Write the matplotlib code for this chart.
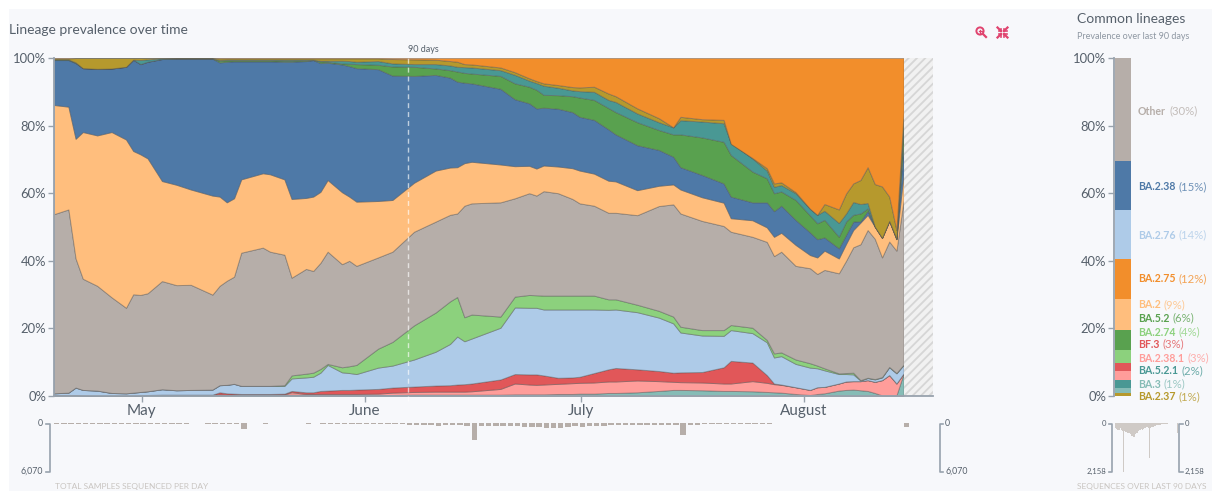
import numpy as np
import matplotlib
matplotlib.use("Agg")
import matplotlib.pyplot as plt
from matplotlib.patches import Rectangle, Circle

plt.rcParams['font.family'] = ['Lato', 'DejaVu Sans']
plt.rcParams['hatch.linewidth'] = 1.3

W, H = 1212, 491
TXT = '#56606b'
AXC = '#98a2ad'

days = [0,2,3,4,6,8,10,11,12,13,
        15,17,19,22,23,24,25,26,29,30,
        32,33,35,36,37,38,40,41,42,45,
        47,50,53,55,56,57,58,62,64,66,
        67,68,70,72,73,75,77,78,81,84,
        86,87,90,93,94,97,99,100,101,103,
        105,106,107,109,110,111,112,113,114,115,
        116,117,118]

# upper edge (%) of each lineage in the stack, bottom to top
top_ba3 = [.2,.2,.2,.2,.1,.1,.1,.1,.2,.3,
           .4,.4,.4,.4,.4,.4,.4,.4,.4,.4,
           .4,.4,.4,.4,.3,.3,.3,.3,.3,.3,
           .3,.4,.4,.4,.4,.4,.4,.4,.5,.5,
           .5,.5,.6,.6,.7,.7,.9,.9,1.1,1.5,
           1.8,1.8,1.7,1.5,1.5,1.4,1.2,1.1,1,.6,
           .3,.6,.8,1.6,1.8,1.9,1.7,1.5,.9,.2,
           .2,.2,6.7]
top_ba2381 = [.3,.3,.3,.2,.1,.1,.1,.1,.2,.3,
              .4,.4,.4,.4,.5,.4,.4,.4,.4,.4,
              .5,1.1,.6,.6,.6,.6,.6,.6,.6,.7,
              1,1.2,1.3,1.3,1.3,1.3,1.4,2.1,3.7,3.4,
              3.3,3.4,3.6,3.8,3.9,4,4.3,4.3,4.6,4.4,
              4.2,4.1,4,3.7,3.7,4.4,3.9,3.5,3.3,2.6,
              1.8,2.6,2.7,3.7,4.3,4.4,4.4,4.7,4.2,4.7,
              6.2,3.7,6.7]
top_bf3 = [.3,.3,.3,.2,.1,.1,.1,.1,.2,.3,
           .4,.4,.4,.4,1.1,.8,.7,.6,.6,.6,
           .7,1.5,1.1,1.1,1.5,1.6,1.8,1.8,1.9,2.1,
           2.5,2.8,3.1,3.2,3.4,3.5,3.7,4.9,6.5,6.4,
           6.4,6.1,5.4,5.5,5.7,6.8,7.9,8.3,7.9,7.4,
           6.9,7,7.1,8.5,10.4,9.9,6.2,3.7,3.4,2.6,
           1.8,2.6,2.7,3.7,4.3,4.4,4.4,4.7,4.2,4.7,
           6.2,3.7,6.7]
top_ba276 = [.8,1,2.5,1.8,1.6,.9,.8,1,1.2,1.4,
             2,1.7,1.8,1.9,3.2,3.3,3.6,3,3,3,
             3,5.2,5.5,5.7,6.9,9.2,7,6.8,6.5,8.4,
             9,10.8,13.1,15.4,17.6,16.2,17,20.2,26.2,26.1,
             26.1,25.6,25.6,25.6,25.6,25.6,25.5,25.6,24.8,23.2,
             21.5,18.8,17.9,17.8,19.5,18.6,15.9,11.4,11.8,9.5,
             8.4,8.2,7.6,6.5,6.5,6.4,4.6,5.3,4.9,5.5,
             8.5,6.7,9.2]
top_ba274 = [.8,1,2.5,1.8,1.6,.9,.8,1,1.2,1.4,
             2,1.7,1.8,1.9,3.2,3.3,3.6,3,3,3,
             3.2,6.1,6.6,6.9,8,9.5,8.5,8.8,9.2,14,
             16,20.9,24.7,28,29.3,23.3,24.1,23.5,29.4,29.9,
             29.8,29.7,29.7,29.7,29.7,29.7,28.6,28.6,27,25.2,
             23.5,20.5,19.5,19.5,21,20.2,16.6,12.6,12.9,10.8,
             9.7,9,8.2,6.7,6.8,6.9,4.7,5.4,5,5.6,
             8.6,6.8,9.3]
top_other = [53.8,55.2,40.7,34.7,32.6,29.2,26.1,30.1,29.9,30.4,
             34,32.8,32.9,30,32.6,34.1,35.3,42.4,43.9,42.7,
             41.8,35,37.6,37,39.4,42.7,39,40,38.5,41,
             42.7,48.6,51.6,53.6,54,56.3,57,57.3,58.5,60,
             59.3,60.6,60,58.3,57,56.3,54.2,54.2,53.5,56.2,
             56.7,54,51.8,50.3,48.6,47.1,45.6,41.4,42.7,38.5,
             37.8,36.1,37.3,36.3,40,44,44.9,49.1,46.5,41,
             45.7,43,58]
top_ba2 = [86.1,85.6,76.1,78.1,77.1,78.1,75.9,72.5,71.5,70.3,
           63.6,62.5,61.1,59.3,59,57.3,58.5,64.1,65.9,65.6,
           64.1,58.3,58.6,59,60.4,63.9,60.3,59,57.5,57.7,
           58,63.1,66.7,67.6,67.7,68.9,69.3,68.5,68,68.1,
           67.3,68.2,67.9,67.4,66.7,65.8,63.7,63.5,60.9,62.2,
           62.6,61.1,58.8,57.2,52.6,52,49.9,47.1,48.3,44.7,
           41.7,41,43,40.7,45,49.1,51.3,53.6,50.1,46.8,
           51.8,46.4,65.9]
top_ba238 = [99.4,99.4,98.5,97,96.8,96.9,97.4,99.5,98.2,98.9,
             99.7,99.8,99.8,99.8,98.7,98.9,99,99,99,99,
             98.9,98.9,99.1,99.4,98.5,98.6,98.1,97.6,97,96.7,
             94.8,94.7,95,94.2,93,92.7,92.5,90.9,87.8,86.6,
             85.1,85.3,85,84,82.6,81.7,78.9,77.4,74.2,72.8,
             70.8,67.7,65.4,62.9,59,57.3,57.3,54.7,56.3,52.1,
             48.4,46.4,46.9,43.7,47.7,51.6,51.7,54.8,50.1,46.8,
             51.8,46.4,75]
top_ba52 = [99.5,99.5,98.6,97,96.8,96.9,97.4,99.5,98.2,98.9,
            99.7,99.8,99.8,99.8,99.2,99.3,99.3,99.3,99.3,99.3,
            99.2,99.2,99.3,99.4,99,98.9,98.4,98.3,98.2,98,
            97.5,97.4,96.9,96.4,96,95.6,95.4,94.7,92.5,91.5,
            90.6,89.1,89,88.7,88.3,87.6,85.2,84,81,78.7,
            77.4,77.4,76.5,75.2,71.3,66.4,64.4,60,60.5,58,
            53.4,51.1,52.1,47.1,51.6,53.6,54,55.5,50.1,46.8,
            51.8,46.5,80]
top_ba521 = [99.6,99.6,98.7,97,96.8,96.9,97.4,99.5,99.4,99.6,
             99.9,99.9,99.9,99.9,99.4,99.5,99.5,99.5,99.5,99.5,
             99.5,99.5,99.5,99.5,99.2,99.2,99.2,99.1,98.9,99.1,
             98.4,98.2,98.2,97.8,97.4,97.3,97.2,96.4,95,93.3,
             92.6,91.8,91.2,90.4,90.2,90,87.6,87,83.6,81,
             79.5,81.6,81.2,80.7,74.9,70.3,66.7,61.9,62.4,60,
             55.4,53.6,54.8,51.2,54,57.4,56.8,57.1,50.1,46.8,
             51.8,46.6,82]
top_ba237 = [99.9,99.9,100,100,100,100,100,100,100,100,
             100,100,100,100,99.9,99.9,99.9,99.9,99.9,99.9,
             99.9,99.9,99.9,99.9,99.9,99.9,99.9,99.9,99.9,99.9,
             99.7,99.6,99.5,99.1,98.9,98.2,98.1,97.2,95.8,94,
             93.2,92.5,92,91.4,91.3,91.5,89.5,88.7,85.1,82.2,
             79.5,82.6,81.9,81.7,74.6,70.4,67.4,62.9,63.2,60.3,
             55.4,53.6,56.8,55.2,59.9,62.9,63.9,67.7,62.7,62,
             59,49.1,84.1]
top_all = [100.0] * len(days)

stack_names = ['BA.3','BA.2.38.1','BF.3','BA.2.76','BA.2.74','Other','BA.2',
               'BA.2.38','BA.5.2','BA.5.2.1','BA.2.37','BA.2.75']
stack_tops = [top_ba3, top_ba2381, top_bf3, top_ba276, top_ba274, top_other, top_ba2,
              top_ba238, top_ba52, top_ba521, top_ba237, top_all]

colors = {'BA.3':'#86bcb6','BA.2.38.1':'#ff9d9a','BF.3':'#e15759','BA.2.76':'#aecbe8',
          'BA.2.74':'#8cd17d','Other':'#b6aea9','BA.2':'#ffbe7d','BA.2.38':'#4e79a7',
          'BA.5.2':'#59a14f','BA.5.2.1':'#499894','BA.2.37':'#b6992d','BA.2.75':'#f28e2b'}

month_days = [12.2, 43.2, 73.2, 104.1]
month_labels = ['May', 'June', 'July', 'August']
pct_ticks = [0, 20, 40, 60, 80, 100]

# samples sequenced per day, day 0 to day 118
daily_early = [90,100,80,110,90,120,100,80,110,120,100,90,110,100,120,130,110,100,90,
               40,30,70,90,80,90,100,760,60,50,70,60,50,40,60,50,70,60,90,80,100,110,100,110,120,110,
               130,140,150,160]
daily_last = [220,250,300,300,330,200,240,300,370,2158,350,380,400,430,430,440,450,500,560,600,
              630,620,480,430,450,390,350,320,300,280,300,260,240,220,200,210,190,220,1550,210,
              190,170,160,150,140,130,110,100,90,80,70,60,50,45,40,35,30,28,25,20,
              18,15,12,10,8,6,5,4,3,450]

# right-hand summary, bottom to top
common_names = ['BA.2.37','BA.3','BA.5.2.1','BA.2.38.1','BF.3','BA.2.74','BA.5.2','BA.2',
                'BA.2.75','BA.2.76','BA.2.38','Other']
common_values = [1.0,1.3,2.3,2.7,2.4,4.0,5.9,9.2,11.8,14.3,14.6,30.6]
common_shown = ['1%','1%','2%','3%','3%','4%','6%','9%','12%','14%','15%','30%']
label_y_px = [397,384,371,358,344,332,318,305,279,235,187,111]

fig = plt.figure(figsize=(W/100, H/100), dpi=100, facecolor='white')

def pax(x0, y0, x1, y1, **kw):
    return fig.add_axes([x0/W, 1-y1/H, (x1-x0)/W, (y1-y0)/H], **kw)

# overlay in pixel coordinates
ov = pax(0, 0, W, H, zorder=0)
ov.set_xlim(0, W); ov.set_ylim(H, 0); ov.axis('off')
ov.add_patch(Rectangle((9, 9), W-9, H-9, fc='#f7f8fb', ec='none'))

# main stream
ax = pax(54, 58, 933, 396, zorder=2)
ax.patch.set_alpha(0)
tops = np.array(stack_tops)
shares = np.diff(np.vstack([np.zeros(len(days)), tops]), axis=0)
ax.stackplot(days, shares, colors=[colors[n] for n in stack_names],
             edgecolor=(0.3, 0.3, 0.3, 0.4), linewidth=0.7)
ax.set_xlim(0, 122.08)
ax.set_ylim(0, 100)
ax.add_patch(Rectangle((118, 0), 4.08, 100, fc='#f1f1f1', ec='#d6d6d6', hatch='////', lw=0))
ax.set_xticks(month_days, month_labels)
ax.set_yticks(pct_ticks, [f'{p}%' for p in pct_ticks])
ax.tick_params(axis='x', length=4, width=1, color=AXC, labelcolor=TXT, labelsize=11, pad=2)
ax.tick_params(axis='y', length=4, width=1, color=AXC, labelcolor=TXT, labelsize=9.4, pad=1.5)
for s in ('top', 'right'):
    ax.spines[s].set_visible(False)
for s in ('left', 'bottom'):
    ax.spines[s].set_color(AXC); ax.spines[s].set_linewidth(1.3)

# 90 day marker
ax.plot([49.2, 49.2], [-1.5, 100], color='white', ls=(0, (3.6, 2.8)), lw=1, alpha=.65, clip_on=False, zorder=5)
ov.text(408, 49, '90 days', fontsize=6.5, color=TXT, va='center', ha='left')

# titles
ov.text(9, 30, 'Lineage prevalence over time', fontsize=10, color=TXT, va='center')
ov.text(1077, 18.5, 'Common lineages', fontsize=10, color=TXT, va='center')
ov.text(1077, 36, 'Prevalence over last 90 days', fontsize=6.5, color='#8f98a3', va='center')
ov.text(55, 486, 'TOTAL SAMPLES SEQUENCED PER DAY', fontsize=6, color='#c9c5c1', va='center')
ov.text(1077, 486, 'SEQUENCES OVER LAST 90 DAYS', fontsize=6, color='#c9c5c1', va='center')

# icons
PINK = '#e0446f'
ov.add_patch(Circle((980, 31), 3.6, fc='none', ec=PINK, lw=1.4))
ov.plot([983, 986], [34, 37], color=PINK, lw=1.6)
ov.plot([978.5, 981.5], [31, 31], color=PINK, lw=.9)
ov.plot([980, 980], [29.5, 32.5], color=PINK, lw=.9)
for sx_, sy_ in ((-1, -1), (1, -1), (-1, 1), (1, 1)):
    ov.plot([1002.5+sx_*1.5, 1002.5+sx_*5], [32.5+sy_*1.5, 32.5+sy_*5], color=PINK, lw=1.6)
    ov.plot([1002.5+sx_*1.5, 1002.5+sx_*4], [32.5+sy_*1.5, 32.5+sy_*1.5], color=PINK, lw=1.2)
    ov.plot([1002.5+sx_*1.5, 1002.5+sx_*1.5], [32.5+sy_*1.5, 32.5+sy_*4], color=PINK, lw=1.2)

# daily bars
daily = np.array(daily_early + daily_last, dtype=float)
bx = pax(54, 423, 933, 471, zorder=2)
bx.patch.set_alpha(0)
bx.bar(np.arange(len(daily)), daily, width=.75, color='#b6aea9', align='edge')
bx.set_xlim(0, 122.08); bx.set_ylim(6070, 0); bx.axis('off')

def bracket(x, side):
    d = -3.5 if side == 'left' else 3.5
    ov.plot([x+d, x, x, x+d], [423.5, 423.5, 471.5, 471.5], color=AXC, lw=1.2)

bracket(49.5, 'left'); bracket(939.5, 'right')
ov.text(43, 423, '0', fontsize=6.3, color=TXT, ha='right', va='center')
ov.text(43, 471.5, '6,070', fontsize=6.3, color=TXT, ha='right', va='center')
ov.text(945, 423, '0', fontsize=6.3, color=TXT, ha='left', va='center')
ov.text(945, 471.5, '6,070', fontsize=6.3, color=TXT, ha='left', va='center')

# summary bar
cx = pax(1114, 58, 1131, 396, zorder=2)
cx.patch.set_alpha(0)
bottom = 0
for n, v in zip(common_names, common_values):
    cx.bar(0, v, bottom=bottom, width=1, color=colors[n], align='edge')
    bottom += v
cx.set_xlim(-0.06, 1); cx.set_ylim(0, 100)
cx.set_xticks([])
cx.set_yticks(pct_ticks, [f'{p}%' for p in pct_ticks])
cx.tick_params(axis='y', length=4, width=1, color=AXC, labelcolor=TXT, labelsize=9.4, pad=1.5)
for s in ('top', 'right', 'bottom'):
    cx.spines[s].set_visible(False)
cx.spines['left'].set_color(AXC); cx.spines['left'].set_linewidth(1.3)

fig.canvas.draw()
rend = fig.canvas.get_renderer()
for n, s, y in zip(common_names, common_shown, label_y_px):
    t = ov.text(1138, y, n, fontsize=7.6, color=colors[n], fontweight='bold', va='center')
    w = t.get_window_extent(rend).width
    ov.text(1138 + w + 3, y, f'({s})', fontsize=8.2, color=colors[n], alpha=.8, va='center')

# last days sparkline
sx = pax(1115, 423, 1178, 471.5, zorder=2)
sx.patch.set_alpha(0)
sx.bar(np.arange(len(daily_last)), daily_last, width=1, color='#cfcac6', align='edge')
sx.set_xlim(0, 70); sx.set_ylim(2158, 0); sx.axis('off')
bracket(1112, 'left'); bracket(1179, 'right')
ov.text(1106, 423, '0', fontsize=5.6, color=TXT, ha='right', va='center')
ov.text(1106, 471.5, '2,158', fontsize=5.6, color=TXT, ha='right', va='center')
ov.text(1185, 423, '0', fontsize=5.6, color=TXT, ha='left', va='center')
ov.text(1185, 471.5, '2,158', fontsize=5.6, color=TXT, ha='left', va='center')

fig.savefig('out.png', dpi=100, facecolor='white')
